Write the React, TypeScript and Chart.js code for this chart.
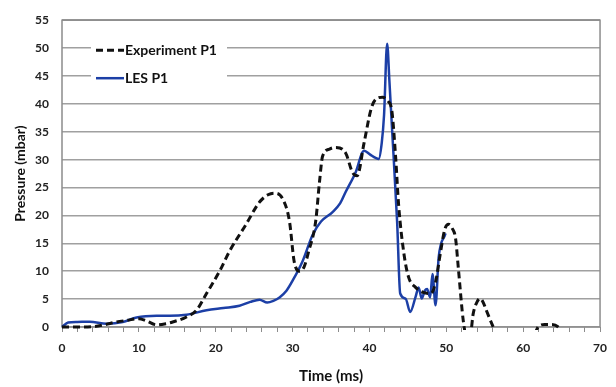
import React, { useEffect, useRef } from "react";
import { Chart, registerables } from "chart.js";

Chart.register(...registerables);

const expTime = [0, 2, 4.3, 5.5, 7.1, 8.5, 10, 11, 12.3, 13.5, 14.4, 16.2, 17.5, 18.8, 20.5, 21.8, 23.9, 25.7, 26.8, 27.6, 28.7, 29.6, 30.2, 30.9, 31.5, 32.1, 33, 33.5, 33.9, 34.8, 35.6, 36.9, 37.8, 38.4, 39.3, 40.2, 40.8, 41.7, 42.4, 42.9, 43.4, 43.8, 44.5, 45.1, 46, 47, 48, 48.6, 49.2, 49.8, 50.3, 50.8, 51.2, 51.6, 52.2, 52.6, 53.1, 53.5, 54, 54.4, 54.8, 55.2, 56.1, 56.6, 61.3, 62, 62.8, 63.6, 64.5, 65];
const expPressure = [0, 0, 0.1, 0.4, 0.9, 1.2, 1.5, 1.1, 0.4, 0.6, 0.9, 1.8, 3, 6, 10, 13.6, 18.3, 22.4, 23.7, 24, 23, 18.9, 11.8, 10, 10.8, 13.6, 18.9, 26, 30.6, 31.9, 32.2, 31.2, 27.7, 27.1, 33, 39, 40.8, 41.2, 40.5, 38.9, 30.6, 21.8, 13, 8.9, 7.1, 6.2, 6, 8, 13, 17.5, 18.4, 17.6, 15.9, 10, 1.2, -1.5, -1.5, 2.4, 4.5, 5.1, 4.4, 3, 0, -1.5, -1.5, 0.1, 0.45, 0.45, 0.05, -1];

const lesTime = [0, 0.8, 2, 3.6, 5.8, 7.9, 9.7, 12.3, 14, 16.2, 18.8, 21, 23.1, 24.5, 25.7, 26.7, 27.5, 28.3, 29.2, 30, 31.3, 32.6, 33.7, 35.2, 36.2, 36.9, 38.2, 39.3, 40.1, 40.8, 41.2, 41.6, 41.9, 42.3, 42.6, 42.9, 43.6, 44, 44.7, 45.3, 46, 46.4, 46.8, 47.2, 47.5, 47.9, 48.2, 48.6, 49, 49.9];
const lesPressure = [0, 0.8, 0.9, 0.95, 0.6, 0.9, 1.7, 2, 2, 2.2, 3, 3.4, 3.8, 4.5, 4.9, 4.4, 4.7, 5.3, 6.5, 8.3, 11.8, 16.5, 18.9, 20.6, 22.2, 24.2, 27.7, 31.6, 30.9, 30.3, 30.1, 33, 38, 50.8, 44, 36.5, 18.9, 6, 5.1, 2.7, 5.4, 7.1, 5.1, 6.5, 6.8, 5.3, 9.5, 3.9, 12.4, 16.8];

const seriesNames = ["Experiment P1", "LES P1"];
const xTitle = "Time (ms)";
const yTitle = "Pressure (mbar)";

const FONT = "Lato, 'Open Sans', sans-serif";
const EXP_COLOR = "#111111";
const LES_COLOR = "#1c3fa6";
const GRID = "#a0a0a0";

const framePlugin = {
  id: "frame",
  beforeDatasetsDraw(chart: any) {
    const { ctx, chartArea: a } = chart;
    ctx.save();
    ctx.strokeStyle = "#8c8c8c";
    ctx.lineWidth = 1.5;
    ctx.strokeRect(a.left, a.top, a.right - a.left, a.bottom - a.top);
    // legend box
    const lx = a.left + 29;
    ctx.fillStyle = "#ffffff";
    ctx.fillRect(lx, a.top + 18, 136, 54);
    ctx.lineWidth = 3;
    ctx.strokeStyle = EXP_COLOR;
    ctx.setLineDash([7, 4]);
    ctx.beginPath();
    ctx.moveTo(lx + 5, a.top + 30);
    ctx.lineTo(lx + 33, a.top + 30);
    ctx.stroke();
    ctx.setLineDash([]);
    ctx.lineWidth = 2.5;
    ctx.strokeStyle = LES_COLOR;
    ctx.beginPath();
    ctx.moveTo(lx + 5, a.top + 58);
    ctx.lineTo(lx + 33, a.top + 58);
    ctx.stroke();
    ctx.fillStyle = "#111111";
    ctx.font = `bold 14px ${FONT}`;
    ctx.textBaseline = "middle";
    ctx.textAlign = "left";
    ctx.fillText(seriesNames[0], lx + 34, a.top + 30);
    ctx.fillText(seriesNames[1], lx + 34, a.top + 58);
    ctx.restore();
  },
};

export default function App() {
  const ref = useRef<HTMLCanvasElement>(null);
  useEffect(() => {
    const chart = new Chart(ref.current!, {
      type: "line",
      data: {
        datasets: [
          {
            label: seriesNames[0],
            data: expTime.map((t, i) => ({ x: t, y: expPressure[i] })),
            borderColor: EXP_COLOR,
            borderWidth: 3,
            borderDash: [7, 4],
            pointRadius: 0,
            cubicInterpolationMode: "monotone",
            clip: 3,
          },
          {
            label: seriesNames[1],
            data: lesTime.map((t, i) => ({ x: t, y: lesPressure[i] })),
            borderColor: LES_COLOR,
            borderWidth: 2.5,
            pointRadius: 0,
            cubicInterpolationMode: "monotone",
            clip: 3,
          },
        ],
      },
      options: {
        animation: false,
        responsive: false,
        devicePixelRatio: 1,
        layout: { padding: { top: 15, right: 13, left: 0, bottom: 0 } },
        plugins: { legend: { display: false }, tooltip: { enabled: false } },
        scales: {
          x: {
            type: "linear",
            min: 0,
            max: 70,
            afterFit: (s: any) => { s.height = 60; },
            ticks: {
              stepSize: 2,
              autoSkip: false,
              maxRotation: 0,
              minRotation: 0,
              padding: 9,
              color: "#222",
              font: { family: FONT, size: 12, weight: "bold" },
              callback: (v: any) => (Number(v) % 10 === 0 ? String(v) : ""),
            },
            grid: { display: true, drawOnChartArea: false, drawTicks: true, tickLength: 5, color: "#8c8c8c", lineWidth: 1 },
            border: { display: false },
            title: { display: true, text: xTitle, color: "#111", font: { family: FONT, size: 15, weight: "bold" }, padding: { top: 0, bottom: 2 } },
          },
          y: {
            min: 0,
            max: 55,
            afterFit: (s: any) => { s.width = 62; },
            ticks: {
              stepSize: 5,
              padding: 13,
              color: "#222",
              font: { family: FONT, size: 12, weight: "bold" },
            },
            grid: { color: GRID, lineWidth: 1.5, drawTicks: false },
            border: { display: false },
            title: { display: true, text: yTitle, color: "#111", font: { family: FONT, size: 14, weight: "bold" }, padding: { top: 12, bottom: 0 } },
          },
        },
      },
      plugins: [framePlugin],
    });
    return () => chart.destroy();
  }, []);
  return (
    <div style={{ position: "fixed", left: 0, top: 0, width: 616, height: 387, background: "#fff" }}>
      <canvas ref={ref} width={616} height={387} />
    </div>
  );
}
